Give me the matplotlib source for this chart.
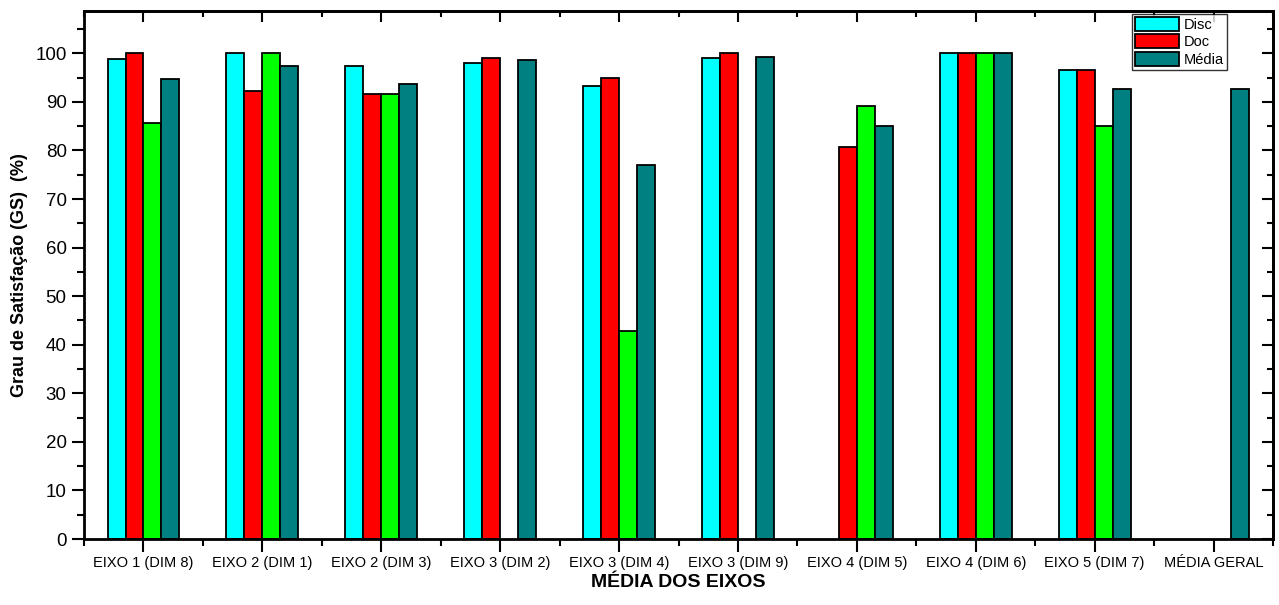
import numpy as np
import matplotlib.pyplot as plt
from matplotlib.ticker import MultipleLocator, FixedLocator

plt.rcParams['font.family'] = ['Liberation Sans', 'DejaVu Sans']

categorias = ['EIXO 1 (DIM 8)', 'EIXO 2 (DIM 1)', 'EIXO 2 (DIM 3)', 'EIXO 3 (DIM 2)',
              'EIXO 3 (DIM 4)', 'EIXO 3 (DIM 9)', 'EIXO 4 (DIM 5)', 'EIXO 4 (DIM 6)',
              'EIXO 5 (DIM 7)', 'MÉDIA GERAL']

# None = sem barra
disc  = [98.8, 100.0, 97.4, 98.0, 93.2, 99.0, None, 100.0, 96.6, None]
doc   = [100.0, 92.3, 91.7, 99.1, 94.9, 100.0, 80.8, 100.0, 96.6, None]
tec   = [85.7, 100.0, 91.7, None, 42.9, None, 89.2, 100.0, 85.0, None]
media = [94.8, 97.4, 93.6, 98.6, 77.0, 99.3, 85.0, 100.0, 92.7, 92.7]

series = [
    ('Disc', disc, '#00ffff'),
    ('Doc', doc, '#ff0000'),
    (None, tec, '#00ff00'),
    ('Média', media, '#008080'),
]

fig = plt.figure(figsize=(12.79, 6.05), dpi=100)
ax = fig.add_axes([0.0657, 0.109, 0.9296, 0.8728])

x = np.arange(1, len(categorias) + 1)
w = 0.151
for i, (nome, vals, cor) in enumerate(series):
    xs = [xi + (i - 1.5) * w for xi, v in zip(x, vals) if v is not None]
    ys = [v for v in vals if v is not None]
    ax.bar(xs, ys, width=w, color=cor, edgecolor='black', linewidth=1.3,
           label=nome if nome else '_nolegend_')

ax.set_xlim(0.5, 10.5)
ax.set_ylim(0, 108.7)

ax.set_xticks(x)
ax.set_xticklabels(categorias, fontsize=10.5)
ax.xaxis.set_minor_locator(FixedLocator(np.arange(0.5, 11, 1.0)))
ax.yaxis.set_minor_locator(MultipleLocator(5))
ax.set_yticks(np.arange(0, 101, 10))
ax.tick_params(axis='y', labelsize=13.5)
ax.tick_params(which='major', direction='out', length=9, width=1.5)
ax.tick_params(which='minor', direction='out', length=5, width=1.5)
ax.tick_params(axis='x', pad=3)

# eixos espelhados (topo e direita) com ticks para dentro
top = ax.secondary_xaxis('top')
top.set_xticks(x)
top.xaxis.set_minor_locator(FixedLocator(np.arange(0.5, 11, 1.0)))
top.tick_params(which='major', direction='in', length=8, width=1.5, labeltop=False)
top.tick_params(which='minor', direction='in', length=4, width=1.5)
right = ax.secondary_yaxis('right')
right.set_yticks(np.arange(0, 101, 10))
right.yaxis.set_minor_locator(MultipleLocator(5))
right.tick_params(which='major', direction='in', length=8, width=1.5, labelright=False)
right.tick_params(which='minor', direction='in', length=4, width=1.5)
for a in (ax, top, right):
    for s in a.spines.values():
        s.set_linewidth(2)

ax.set_ylabel('Grau de Satisfação (GS)  (%)', fontsize=13, fontweight='bold', labelpad=5)
ax.set_xlabel('MÉDIA DOS EIXOS', fontsize=14, fontweight='bold', labelpad=3)

leg = ax.legend(loc='upper right', bbox_to_anchor=(0.9615, 0.995), fontsize=10.5,
                frameon=True, fancybox=False, edgecolor='black', borderpad=0.25,
                handlelength=3.0, handleheight=1.1, labelspacing=0.15, handletextpad=0.3,
                borderaxespad=0)
leg.get_frame().set_linewidth(1)

fig.savefig('out.png', dpi=100)
